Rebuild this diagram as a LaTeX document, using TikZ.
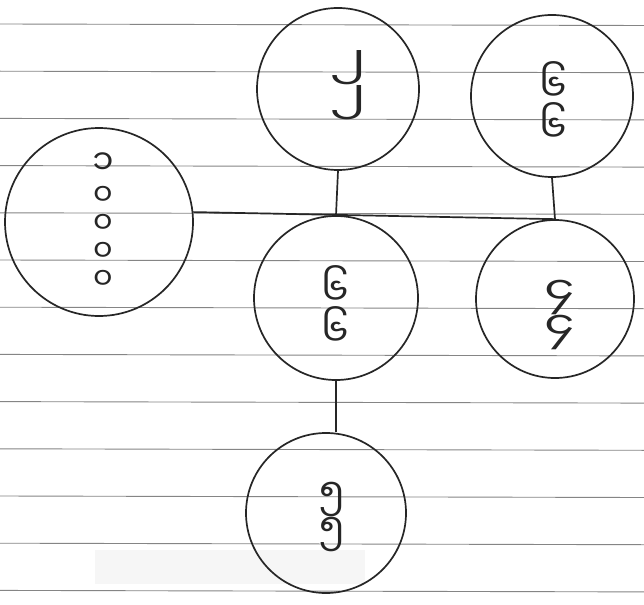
\documentclass[tikz,border=0pt]{standalone}
\usepackage{fontspec}
\newfontfamily\myfont[Script=Myanmar]{Noto Sans Myanmar UI}
\definecolor{ink}{HTML}{262626}
\definecolor{rule}{HTML}{858585}
\begin{document}
\begin{tikzpicture}[x=1pt,y=-1pt,
  person/.style={circle,draw=ink,line width=1.7pt,inner sep=0pt,minimum size=#1},
  digits/.style={font=\myfont\fontsize{38}{28}\selectfont,text=ink,align=center,inner sep=0pt},
  bigdigits/.style={font=\myfont\fontsize{30}{28}\selectfont,text=ink,align=center,inner sep=0pt},
  link/.style={draw=ink,line width=1.7pt},
  ruling/.style={draw=rule,line width=0.9pt}]
\useasboundingbox (0,0) rectangle (644,604);
\fill[white] (0,0) rectangle (644,604);
% faint smudge near the bottom
\fill[gray!7] (95,550) rectangle (365,584);
% ruled paper
\foreach \k in {0,...,12}{
  \draw[ruling] (0,24+47.2*\k) -- (644,24+47.2*\k+1.5);
}
% circles
\node[person=188pt] (L)  at (99,222) {};
\node[person=162pt] (T)  at (338,89) {};
\node[person=162pt] (TR) at (552,96) {};
\node[person=164pt] (C)  at (336,298) {};
\node[person=158pt] (R)  at (555,299) {};
\node[person=160pt] (B)  at (326,513) {};
% texts
\node[bigdigits] (tL)  at (103,221) {{\fontsize{34}{28}\selectfont ၁}\\[3pt]၀\\၀\\၀\\၀};
\node[digits,xscale=1.4] (tT)  at (348,85) {၂\\၂};
\node[digits] (tTR) at (553,102) {၆\\၆};
\node[digits] (tC)  at (335,306) {၆\\၆};
\node[digits,xscale=1.3] (tR)  at (560,315) {၄\\၄};
\node[digits] (tB)  at (332,517) {၅\\၅};
% connectors
\draw[link] (L.6) -- (R.north);
\draw[link] (T.south) -- (C.north);
\draw[link] (TR.south) -- (R.north);
\draw[link] (C.south) -- (C.south |- B.north);
\end{tikzpicture}
\end{document}
